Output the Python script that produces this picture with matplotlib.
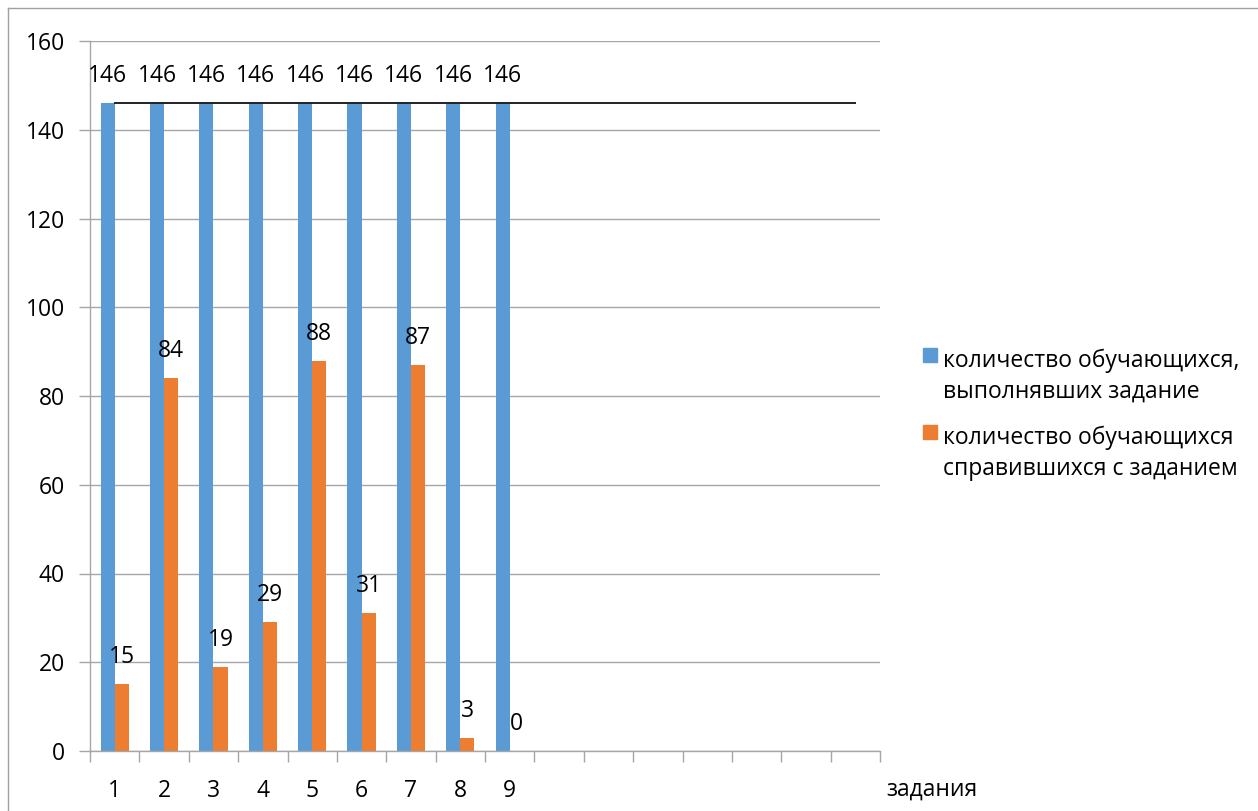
import numpy as np
import matplotlib
matplotlib.use("Agg")
from matplotlib import pyplot as plt
from matplotlib.lines import Line2D
from matplotlib.patches import Rectangle

plt.rcParams['font.family'] = ['Open Sans', 'DejaVu Sans']

# data
tasks = ["1", "2", "3", "4", "5", "6", "7", "8", "9",
         "", "", "", "", "", "", ""]
done = [146, 146, 146, 146, 146, 146, 146, 146, 146]
passed = [15, 84, 19, 29, 88, 31, 87, 3, 0]
total_line = [146, 146, 146, 146, 146, 146, 146, 146,
              146, 146, 146, 146, 146, 146, 146, 146]
legend_labels = ["количество обучающихся,\nвыполнявших задание",
                 "количество обучающихся\nсправившихся с заданием"]

blue = "#5B9BD5"
orange = "#ED7D31"
grid_c = "#A6A6A6"
fs = 16.5

W, H = 1258, 811
fig = plt.figure(figsize=(W / 100, H / 100), dpi=100)
ax = fig.add_axes([90 / W, (H - 751) / H, (880 - 90) / W, (751 - 41) / H])

x_all = np.arange(len(tasks))
x = np.arange(len(done))
bw = 0.285
b1 = ax.bar(x - bw / 2, done, width=bw, color=blue, zorder=2)
b2 = ax.bar(x + bw / 2, passed, width=bw, color=orange, zorder=2)
ax.plot(x_all, total_line, color="#222222", lw=1.4, zorder=3)

for bars, vals in ((b1, done), (b2, passed)):
    for r, v in zip(bars, vals):
        ax.annotate(str(v), (r.get_x() + r.get_width() / 2, v),
                    xytext=(0, 27), textcoords="offset pixels",
                    ha="center", va="center", fontsize=fs, zorder=4)

ax.set_xlim(-0.5, len(tasks) - 0.5)
ax.set_ylim(0, 160)
ax.set_yticks(np.arange(0, 161, 20))
ax.yaxis.grid(True, color=grid_c, lw=1)
ax.set_axisbelow(True)

ax.set_xticks(x_all)
ax.set_xticklabels(tasks, fontsize=fs)
ax.tick_params(axis="x", which="major", length=0, pad=20)
ax.set_xticks(np.arange(-0.5, len(tasks), 1), minor=True)
ax.tick_params(axis="x", which="minor", length=8, color=grid_c, width=1)
ax.tick_params(axis="y", length=8, color=grid_c, width=1, labelsize=fs, pad=10)

for s in ("top", "right"):
    ax.spines[s].set_visible(False)
for s in ("left", "bottom"):
    ax.spines[s].set_color(grid_c)
    ax.spines[s].set_linewidth(1)

fig.text(932 / W, 1 - 790 / H, "задания", ha="center", va="center", fontsize=fs)

# legend drawn by hand so the square sits level with the first text line
for (label, col, top) in ((legend_labels[0], blue, 349), (legend_labels[1], orange, 426)):
    fig.add_artist(Rectangle((923 / W, 1 - (top + 13) / H), 14 / W, 14 / H,
                             transform=fig.transFigure, color=col))
    fig.text(943 / W, 1 - top / H, label, ha="left", va="top",
             fontsize=fs, linespacing=1.35)

# outer chart frame (only left and top edges visible in the crop)
fig.add_artist(Line2D([8 / W, 8 / W], [0, 1 - 8 / H], transform=fig.transFigure,
                      color="#A0A0A0", lw=1))
fig.add_artist(Line2D([8 / W, 1], [1 - 8 / H, 1 - 8 / H], transform=fig.transFigure,
                      color="#A0A0A0", lw=1))

fig.savefig("out.png", dpi=100)
